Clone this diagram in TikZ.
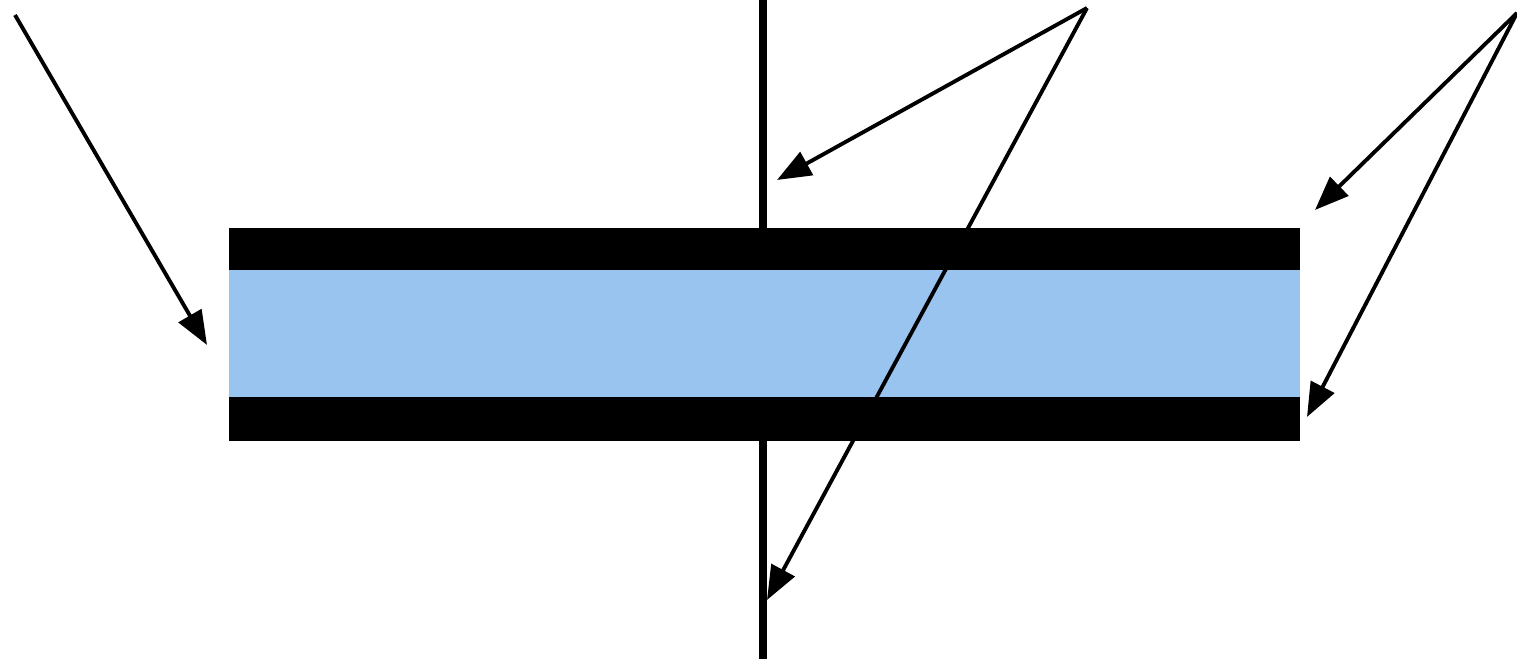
\documentclass[tikz,border=0pt]{standalone}
\usetikzlibrary{arrows.meta}
\definecolor{layerblue}{RGB}{153,196,240}
\begin{document}
\begin{tikzpicture}[x=0.01cm,y=-0.01cm,
  pointer/.style={line width=1.1pt,-{Triangle[length=0.34cm,width=0.26cm]}},
  wire/.style={line width=2.4pt},
  bar/.style={fill=black},
  core/.style={fill=layerblue}]
\useasboundingbox (0,0) rectangle (1517,659);
% points
\coordinate (wtop) at (763,0);
\coordinate (wbot) at (763,659);
\coordinate (s1) at (15,15);
\coordinate (t1) at (207,345);
\coordinate (s2) at (1087,8);
\coordinate (t2a) at (777,180);
\coordinate (t2b) at (767,600);
\coordinate (s3) at (1517,13);
\coordinate (t3a) at (1315,210);
\coordinate (t3b) at (1307,417);
% wire
\draw[wire] (wtop) -- (wbot);
% core layer
\fill[core] (229,268) rectangle (1300,399);
% pointers
\draw[pointer] (s1) -- (t1);
\draw[pointer] (s2) -- (t2a);
\draw[pointer] (s2) -- (t2b);
\draw[pointer] (s3) -- (t3a);
\draw[pointer] (s3) -- (t3b);
% black layers
\fill[bar] (229,228) rectangle (1300,270);
\fill[bar] (229,397) rectangle (1300,441);
\end{tikzpicture}
\end{document}
